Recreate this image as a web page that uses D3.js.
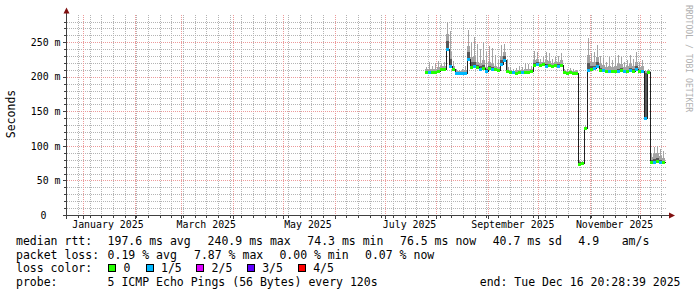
<!DOCTYPE html>
<html><head><meta charset="utf-8">
<script src="https://cdn.jsdelivr.net/npm/d3@7"></script>
<style>
body{margin:0;background:#fff}
svg{display:block}
text{font-family:"DejaVu Sans Mono",monospace}
</style>
</head><body>
<svg id="c" width="697" height="297"></svg>
<script>
// ---- data ----
const endTime = "2025-12-16T20:28:39Z";
const spanDays = 360;
const dataStart = "2025-07-25T06:00:00Z";
const stepHours = 43.2;
const medianMs = [207,207,207,206.5,208,212,211,240.9,216,211,
  206,205,205,205.5,226,214,216,214,212,213,
  209,213,212,211,210,218,224,209,207,206.5,
  206,207,206.5,207,207,209,217,218,217,218,
  216,217,216,217,216,217,206.5,206,206.5,206,
  206,74.3,75,126,210,212,213,216,210,210,
  208,208,208,208,209,210,208,208,210,209,
  211,208,208,141,207,76,77,78,76,76.5];
// darker smoke (2nd..4th ping)
const innerTopMs = [208,209,208,208,210,213,212,252,226,212,
  207,206,206,207,236,222,222,217,215,217,
  211,216,214,212,211,224,230,210,208,207.5,
  207,208,207.5,209,208,210,220,221,218,219,
  219,219,217,218,218,219,207.5,207,207.5,207,
  207,76,76,127,220,215,216,221,213,212,
  210,210,209.5,210,212,213,209.5,210,213,211,
  215,210,210,206,208,80,81,82,80,78];
// typical upper envelope of the light smoke
const upperMs = [211,212,211,212,214,215,215,262,236,215,
  209,208,209,210,245,228,230,222,220,224,
  214,222,219,216,214,230,236,214,210,209,
  210,210,210,212,211,212,224,226,221,222,
  224,223,220,221,222,224,209,208,209,208,
  208,77,77,128,232,222,222,228,218,217,
  214,216,214,215,218,218,214,215,218,216,
  222,214,216,208,210,84,88,90,86,82];
// highest ping (thin spikes)
const maxMs = [214,221,216,220,223,218,221,280,266,223,
  212,210,212,215,268,251,258,247,240,251,
  236,244,242,232,225,246,248,226,214,212,
  213,215,214,220,218,215,238,236,226,230,
  236,234,226,228,230,234,212,211,213,212,
  210,79,78,130,256,234,236,246,230,227,
  222,229,224,227,231,229,222,224,231,226,
  236,222,224,210,212,90,98,100,96,92];
const lossLevel = [0,1,0,0,0,0,0,1,1,0,
  1,1,1,1,1,0,1,0,1,0,
  1,0,1,0,0,1,1,0,0,1,
  0,0,1,0,0,0,0,1,0,0,
  1,0,0,0,1,0,0,0,0,0,
  0,0,0,0,1,0,1,1,0,1,
  0,1,0,0,1,0,1,0,1,0,
  1,0,1,1,0,0,1,0,1,0];
const lossColors = ["#26ff00","#00b8ff","#dd00ff","#5e00ff","#ff0000"];
const lossLabels = ["0","1/5","2/5","3/5","4/5"];
const yTickValues = [0,50,100,150,200,250];
const yTickLabels = ["0","50 m","100 m","150 m","200 m","250 m"];
const monthLabelStarts = ["2025-01-01","2025-03-01","2025-05-01","2025-07-01","2025-09-01","2025-11-01"];
const rttStats = ["197.6 ms avg","240.9 ms max","74.3 ms min","76.5 ms now","40.7 ms sd","4.9","am/s"];
const lossStats = ["0.19 % avg","7.87 % max","0.00 % min","0.07 % now"];
const probeText = "5 ICMP Echo Pings (56 Bytes) every 120s";
const endText = "end: Tue Dec 16 20:28:39 2025";

// ---- scales ----
const svg = d3.select("#c");
const tEnd = new Date(endTime);
const tBegin = new Date(+tEnd - spanDays*864e5);
const x = d3.scaleUtc().domain([tBegin, tEnd]).range([66, 666]);
const y = d3.scaleLinear().domain([0, 289.5]).range([215, 15]);
const t0 = new Date(dataStart);
const times = d3.range(medianMs.length + 1).map(i => new Date(+t0 + i*stepHours*36e5));
const R = Math.round;

// ---- grid ----
const grid = svg.append("g").attr("shape-rendering","crispEdges");
const minorCol = "#b4b4b4", majorCol = "#ec9a9a";
d3.range(10, 290, 10).filter(v => v % 50 !== 0).forEach(v => {
  const yy = R(y(v)) + 0.5;
  grid.append("line").attr("x1",67).attr("x2",666).attr("y1",yy).attr("y2",yy)
    .attr("stroke",minorCol).attr("stroke-dasharray","1,1");
  svg.append("line").attr("x1",64).attr("x2",66).attr("y1",yy).attr("y2",yy).attr("stroke","#404040").attr("shape-rendering","crispEdges");
});
d3.utcSunday.range(tBegin, tEnd).forEach(d => {
  const xx = R(x(d)) + 0.5;
  grid.append("line").attr("x1",xx).attr("x2",xx).attr("y1",15).attr("y2",215)
    .attr("stroke",minorCol).attr("stroke-dasharray","1,1");
  svg.append("line").attr("x1",xx).attr("x2",xx).attr("y1",216).attr("y2",218).attr("stroke","#404040").attr("shape-rendering","crispEdges");
});
yTickValues.filter(v => v > 0).forEach(v => {
  const yy = R(y(v)) + 0.5;
  grid.append("line").attr("x1",67).attr("x2",666).attr("y1",yy).attr("y2",yy)
    .attr("stroke",majorCol).attr("stroke-dasharray","1,1");
  svg.append("line").attr("x1",63).attr("x2",66).attr("y1",yy).attr("y2",yy).attr("stroke","#404040").attr("shape-rendering","crispEdges");
});
d3.utcMonth.range(tBegin, tEnd).forEach(d => {
  const xx = R(x(d)) + 0.5;
  grid.append("line").attr("x1",xx).attr("x2",xx).attr("y1",15).attr("y2",215)
    .attr("stroke",majorCol).attr("stroke-dasharray","1,1");
  svg.append("line").attr("x1",xx).attr("x2",xx).attr("y1",216).attr("y2",219).attr("stroke","#404040").attr("shape-rendering","crispEdges");
});

// ---- smoke ----
const data = medianMs.map((m,i) => ({x0:R(x(times[i])), x1:R(x(times[i+1])), med:m,
  inner:innerTopMs[i], upper:upperMs[i], max:maxMs[i], loss:lossLevel[i]}));
const smoke = svg.append("g").attr("shape-rendering","crispEdges");
const band = (cls, topKey, fill, thin) => smoke.selectAll("rect."+cls).data(data).join("rect").attr("class",cls)
  .attr("x",d=> thin ? d.x0+1 : d.x0).attr("width",d=> thin ? 1 : d.x1-d.x0)
  .attr("y",d=>R(y(d[topKey]))).attr("height",d=>Math.max(0,R(y(d.med))-R(y(d[topKey]))))
  .attr("fill",fill);
band("spike","max","#a4a4a4",true);
band("light","upper","#a4a4a4",false);
band("dark","inner","#585858",false);

// ---- median line ----
const pts = data.map(d => [d.x0+0.5, R(y(d.med))+0.5]);
pts.push([data[data.length-1].x1+0.5, pts[pts.length-1][1]]);
svg.append("path").attr("d", d3.line().curve(d3.curveStepAfter)(pts))
  .attr("fill","none").attr("stroke","#202020").attr("stroke-width",1).attr("shape-rendering","crispEdges");
svg.append("g").selectAll("line").data(data).join("line")
  .attr("x1",d=>d.x0).attr("x2",d=>d.x1)
  .attr("y1",d=>R(y(d.med))+0.5).attr("y2",d=>R(y(d.med))+0.5)
  .attr("stroke",d=>lossColors[d.loss]).attr("stroke-width",3).attr("shape-rendering","crispEdges");

// ---- axes ----
svg.append("line").attr("x1",66.5).attr("x2",66.5).attr("y1",11).attr("y2",219).attr("stroke","#404040").attr("shape-rendering","crispEdges");
svg.append("line").attr("x1",63).attr("x2",670).attr("y1",215.5).attr("y2",215.5).attr("stroke","#404040").attr("shape-rendering","crispEdges");
svg.append("path").attr("d","M63.5,13.5L69.5,13.5L66.5,7.5Z").attr("fill","#801010");
svg.append("path").attr("d","M669,212.5L669,218.5L675,215.5Z").attr("fill","#801010");

// y labels
svg.append("g").selectAll("text").data(yTickValues).join("text")
  .attr("x", v => v === 0 ? 46.5 : 60.5)
  .attr("y", v => y(v) + 3.6)
  .attr("text-anchor","end").attr("font-size","9.9px").attr("fill","#000")
  .text((v,i) => yTickLabels[i]);
// x labels
const fmt = d3.utcFormat("%B %Y");
svg.append("g").selectAll("text").data(monthLabelStarts).join("text")
  .attr("x", s => x(d3.utcDay.offset(new Date(s+"T00:00:00Z"), 15)))
  .attr("y", 228.3).attr("text-anchor","middle").attr("font-size","9.9px").attr("fill","#000")
  .text(s => fmt(new Date(s+"T00:00:00Z")));

// y title
svg.append("text").attr("transform","translate(15,114) rotate(-90)")
  .attr("text-anchor","middle").attr("font-size","11.5px").text("Seconds");
// watermark
svg.append("text").attr("transform","translate(685.8,5) rotate(90)")
  .attr("font-size","8.1px").attr("fill","#b0b0b0").text("RRDTOOL / TOBI OETIKER");

// ---- legend ----
const leg = svg.append("g").attr("font-size","11.5px").attr("fill","#000");
const r1 = 245.3, r2 = 258.8, r3 = 272.3, r4 = 285.8;
leg.append("text").attr("x",16).attr("y",r1).text("median rtt:");
[107.6,207.6,307.3,400,492.7,578.3,621.7].forEach((xx,i)=>leg.append("text").attr("x",xx).attr("y",r1).text(rttStats[i]));
leg.append("text").attr("x",16).attr("y",r2).text("packet loss:");
[107.6,194,279.4,365].forEach((xx,i)=>leg.append("text").attr("x",xx).attr("y",r2).text(lossStats[i]));
leg.append("text").attr("x",16).attr("y",r3).text("loss color:");
[108.4,145.8,196.4,247,298].forEach((xx,i)=>{
  leg.append("rect").attr("x",xx+0.5).attr("y",264.5).attr("width",7).attr("height",7)
    .attr("fill",lossColors[i]).attr("stroke","#000").attr("shape-rendering","crispEdges");
  leg.append("text").attr("x",xx+15.2).attr("y",r3).text(lossLabels[i]);
});
leg.append("text").attr("x",16).attr("y",r4).text("probe:");
leg.append("text").attr("x",107.6).attr("y",r4).text(probeText);
leg.append("text").attr("x",680.5).attr("y",r4).attr("text-anchor","end").text(endText);
</script>
</body></html>
